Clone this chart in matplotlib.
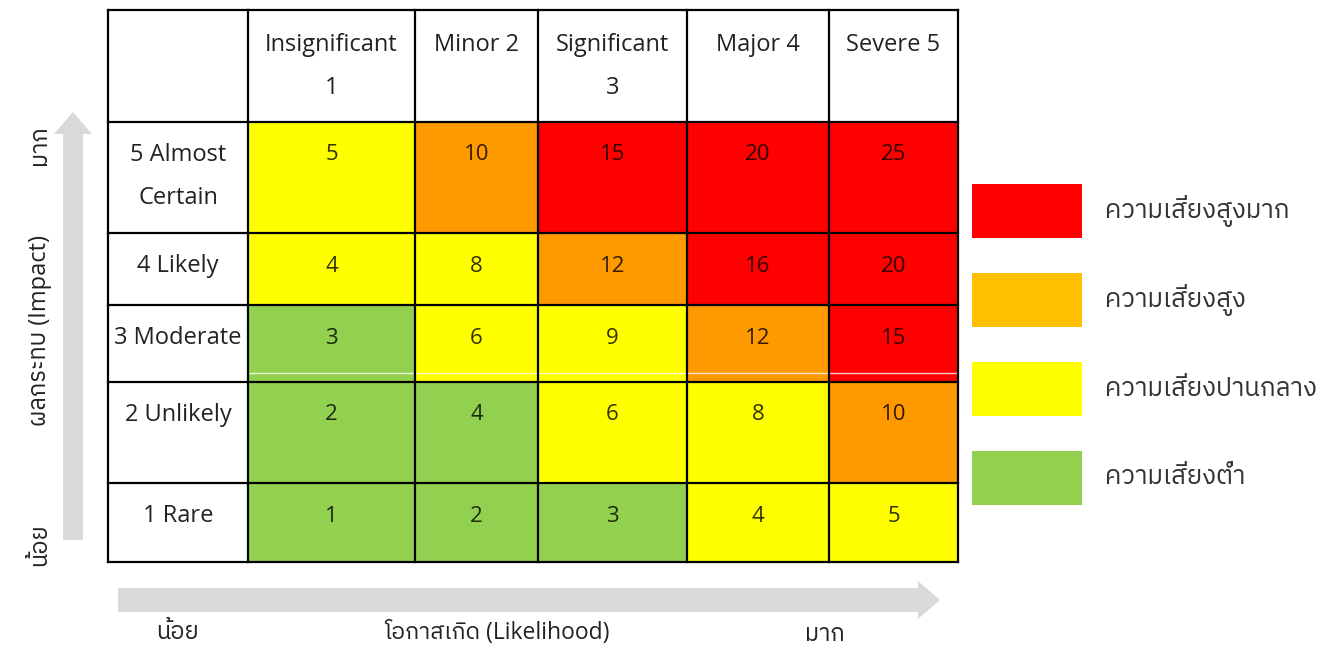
import matplotlib
matplotlib.use("Agg")
import matplotlib.pyplot as plt
from matplotlib import font_manager
from matplotlib.ft2font import FT2Font
from matplotlib.patches import Rectangle, FancyArrow

# Data
likelihood_labels = ["Insignificant\n1", "Minor 2", "Significant\n3", "Major 4", "Severe 5"]
impact_labels = ["5 Almost\nCertain", "4 Likely", "3 Moderate", "2 Unlikely", "1 Rare"]
scores = [
    [5, 10, 15, 20, 25],
    [4, 8, 12, 16, 20],
    [3, 6, 9, 12, 15],
    [2, 4, 6, 8, 10],
    [1, 2, 3, 4, 5],
]
# risk level per cell: 0 low, 1 medium, 2 high, 3 very high
levels = [
    [1, 2, 3, 3, 3],
    [1, 1, 2, 3, 3],
    [0, 1, 1, 2, 3],
    [0, 0, 1, 1, 2],
    [0, 0, 0, 1, 1],
]
legend_labels = ["ความเสี่ยงสูงมาก", "ความเสี่ยงสูง", "ความเสี่ยงปานกลาง", "ความเสี่ยงต่ำ"]
legend_levels = [3, 2, 1, 0]

cell_colors = {0: "#92d050", 1: "#ffff00", 2: "#ff9900", 3: "#ff0000"}
legend_colors = {0: "#92d050", 1: "#ffff00", 2: "#ffc000", 3: "#ff0000"}


# find a font with Thai glyphs
def find_thai_font():
    found = []
    for f in font_manager.fontManager.ttflist:
        try:
            cmap = FT2Font(f.fname).get_charmap()
        except Exception:
            continue
        if 0x0E01 in cmap and 0x0E2A in cmap and 0x0E49 in cmap:
            found.append(f.name)
    for name in found:
        if "Thai" in name and "Looped" not in name:
            return name
    return found[0] if found else None


thai = find_thai_font()
fonts = ["Open Sans"] + ([thai] if thai else []) + ["DejaVu Sans"]
plt.rcParams["font.family"] = fonts

fig = plt.figure(figsize=(13.33, 6.51), dpi=100)
ax = fig.add_axes([0, 0, 1, 1])
ax.set_xlim(0, 1333)
ax.set_ylim(651, 0)
ax.axis("off")

# grid layout (pixels)
col_edges = [108, 248, 415, 538, 687, 829, 958]
row_edges = [10, 122, 233, 305, 382, 483, 562]
line_gap = 43
fs = 17

# cells
for i in range(5):
    for j in range(5):
        x0, x1 = col_edges[j + 1], col_edges[j + 2]
        y0, y1 = row_edges[i + 1], row_edges[i + 2]
        ax.add_patch(Rectangle((x0, y0), x1 - x0, y1 - y0,
                               facecolor=cell_colors[levels[i][j]], edgecolor="none"))
        ax.text((x0 + x1) / 2, y0 + 33, str(scores[i][j]), ha="center", va="center",
                fontsize=16, color="black", alpha=0.8)

# scan artefact line in the moderate row
ax.plot([col_edges[1], col_edges[-1]], [373, 373], color="white", lw=1, alpha=0.8)

# grid lines
for x in col_edges:
    ax.plot([x, x], [row_edges[0], row_edges[-1]], color="black", lw=1.6)
for y in row_edges:
    ax.plot([col_edges[0], col_edges[-1]], [y, y], color="black", lw=1.6)

# header texts
for j, lab in enumerate(likelihood_labels):
    xc = (col_edges[j + 1] + col_edges[j + 2]) / 2
    for k, part in enumerate(lab.split("\n")):
        ax.text(xc, row_edges[0] + 35 + k * line_gap, part, ha="center", va="center",
                fontsize=fs, color="#222222")
for i, lab in enumerate(impact_labels):
    xc = (col_edges[0] + col_edges[1]) / 2
    for k, part in enumerate(lab.split("\n")):
        ax.text(xc, row_edges[i + 1] + 33 + k * line_gap, part, ha="center", va="center",
                fontsize=fs, color="#222222")

# arrows
arrow_grey = "#d9d9d9"
ax.add_patch(FancyArrow(73, 540, 0, -428, width=20, head_width=38, head_length=22,
                        length_includes_head=True, color=arrow_grey, lw=0))
ax.add_patch(FancyArrow(118, 600, 822, 0, width=24, head_width=38, head_length=22,
                        length_includes_head=True, color=arrow_grey, lw=0))

# axis captions
ax.text(40, 145, "มาก", rotation=90, ha="center", va="center", fontsize=17, color="#222222")
ax.text(40, 331, "ผลกระทบ (Impact)", rotation=90, ha="center", va="center", fontsize=17,
        color="#222222")
ax.text(40, 545, "น้อย", rotation=90, ha="center", va="center", fontsize=17, color="#222222")
ax.text(177, 633, "น้อย", ha="center", va="center", fontsize=17, color="#222222")
ax.text(497, 633, "โอกาสเกิด (Likelihood)", ha="center", va="center", fontsize=16.5,
        color="#222222")
ax.text(825, 635, "มาก", ha="center", va="center", fontsize=17, color="#222222")

# legend
leg_tops = [184, 273, 362, 451]
for top, lvl, lab in zip(leg_tops, legend_levels, legend_labels):
    ax.add_patch(Rectangle((972, top), 110, 54, facecolor=legend_colors[lvl], edgecolor="none"))
    ax.text(1105, top + 27, lab, ha="left", va="center", fontsize=18.5, color="#333333")

fig.savefig("out.png", dpi=100)
